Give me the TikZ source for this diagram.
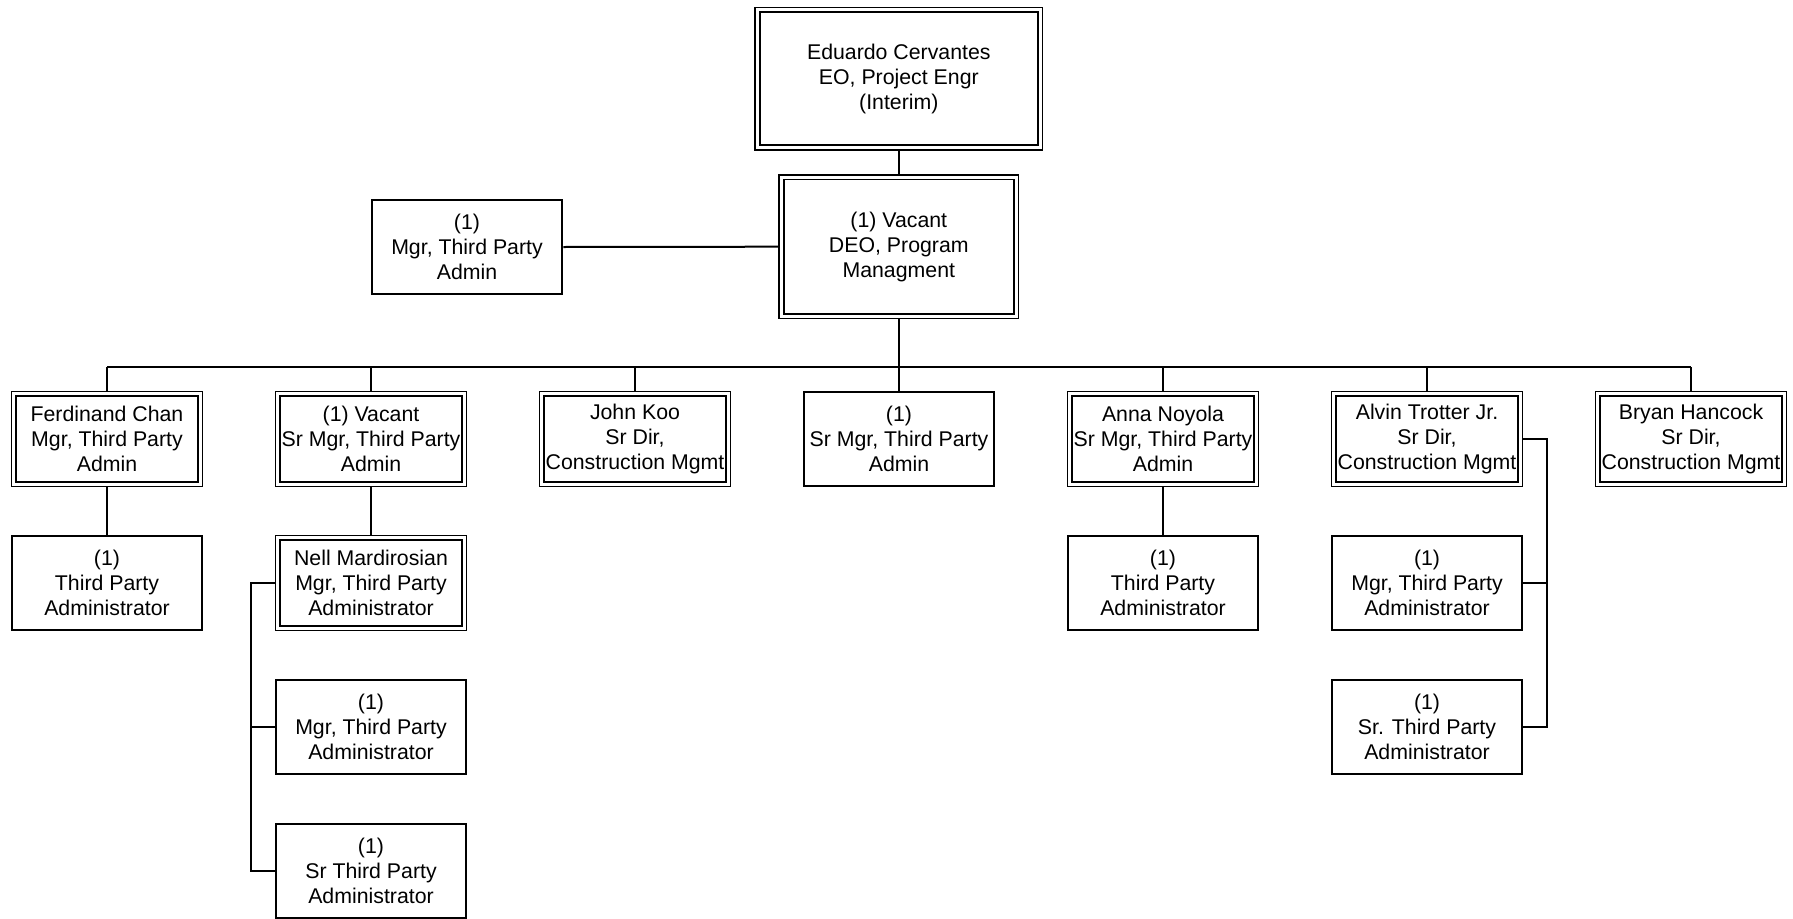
\documentclass[tikz,border=0pt]{standalone}
\usepackage{fontspec}
\setmainfont{Liberation Sans}
\begin{document}
\begin{tikzpicture}[x=1pt,y=-1pt,
  every node/.style={inner sep=0pt, outer sep=0pt, align=center,
    font=\fontsize{21.3}{25}\selectfont},
  sbox/.style={draw, line width=2pt, minimum width=190.6pt, minimum height=94pt, outer sep=1pt},
  dbox/.style={draw, line width=1.7pt, double, double distance=2.9pt, outer sep=3.15pt,
    minimum width=186.3pt, minimum height=90.3pt},
  conn/.style={line width=2pt}]
\useasboundingbox (0,0) rectangle (1793,918);

% top levels
\node[dbox, minimum width=282.7pt, minimum height=137.7pt] (top) at (898.8,78.7)
  {Eduardo Cervantes\\EO, Project Engr\\(Interim)};
\node[dbox, minimum width=234.7pt, minimum height=139pt] (deo) at (898.8,246.7)
  {(1) Vacant\\DEO, Program\\Managment};
\node[sbox] (mgrl) at (467,247) {(1)\\Mgr, Third Party\\Admin};

% level 1
\node[dbox] (c1) at (107,439) {Ferdinand Chan\\Mgr, Third Party\\Admin};
\node[dbox] (c2) at (371,439) {(1) Vacant\\Sr Mgr, Third Party\\Admin};
\node[dbox] (c3) at (635,439) {John Koo\\Sr Dir,\\Construction Mgmt};
\node[sbox] (c4) at (899,439) {(1)\\Sr Mgr, Third Party\\Admin};
\node[dbox] (c5) at (1163,439) {Anna Noyola\\Sr Mgr, Third Party\\Admin};
\node[dbox] (c6) at (1427,439) {Alvin Trotter Jr.\\Sr Dir,\\Construction Mgmt};
\node[dbox] (c7) at (1691,439) {Bryan Hancock\\Sr Dir,\\Construction Mgmt};

% level 2+
\node[sbox] (f1) at (107,583) {(1)\\Third Party\\Administrator};
\node[dbox] (nell) at (371,583) {Nell Mardirosian\\Mgr, Third Party\\Administrator};
\node[sbox] (n2) at (371,727) {(1)\\Mgr, Third Party\\Administrator};
\node[sbox] (n3) at (371,870.7) {(1)\\Sr Third Party\\Administrator};
\node[sbox] (a1) at (1163,583) {(1)\\Third Party\\Administrator};
\node[sbox] (t1) at (1427,583) {(1)\\Mgr, Third Party\\Administrator};
\node[sbox] (t2) at (1427,727) {(1)\\Sr. Third Party\\Administrator};

% connectors
\coordinate (bus) at (0,366.7);
\coordinate (nx) at (251,0);
\coordinate (tx) at (1546.7,0);
\draw[conn] (top.south) -- (deo.north);
\draw[conn] (mgrl.east) -- (deo.west);
\draw[conn] (deo.south) -- (deo.south |- bus);
\draw[conn] (c1.north |- bus) -- (c7.north |- bus);
\foreach \n in {c1,c2,c3,c4,c5,c6,c7}
  \draw[conn] (\n.north) -- (\n.north |- bus);
\draw[conn] (c1.south) -- (f1.north);
\draw[conn] (c2.south) -- (nell.north);
\draw[conn] (c5.south) -- (a1.north);
\draw[conn] (nell.west) -- (nell.west -| nx) |- (n3.west);
\draw[conn] (n2.west) -- (n2.west -| nx);
\draw[conn] (c6.east) -- (c6.east -| tx) |- (t2.east);
\draw[conn] (t1.east) -- (t1.east -| tx);
\end{tikzpicture}
\end{document}
